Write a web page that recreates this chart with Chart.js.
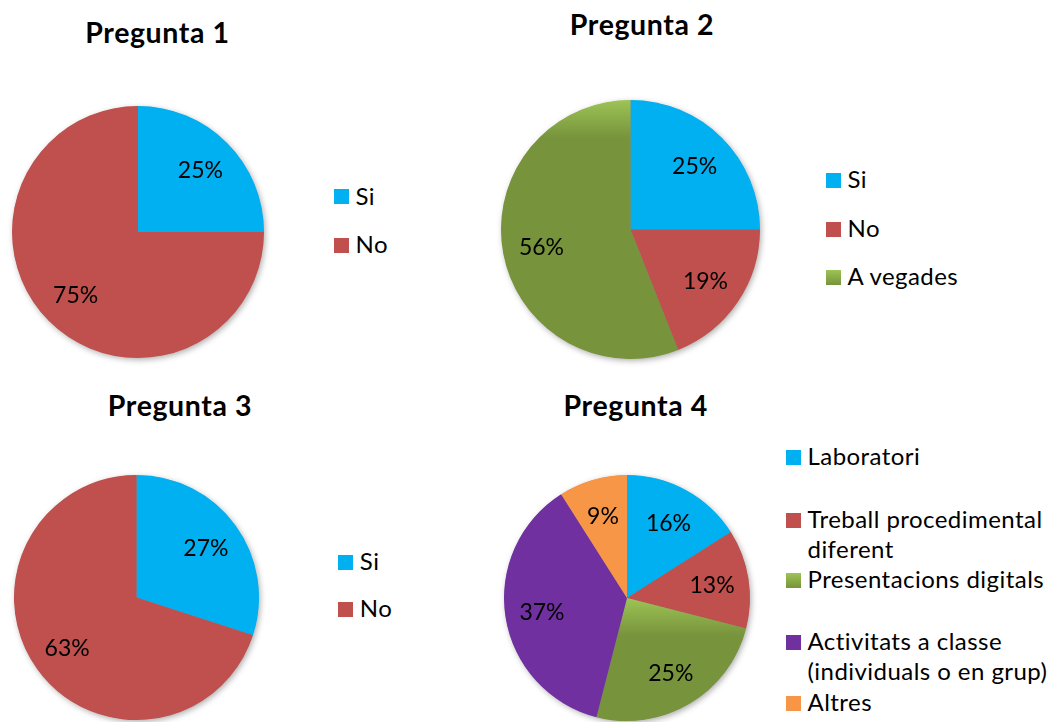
<!DOCTYPE html>
<html>
<head>
<meta charset="utf-8">
<script src="https://cdn.jsdelivr.net/npm/chart.js@4.4.1/dist/chart.umd.min.js"></script>
<style>
  html, body { margin: 0; padding: 0; }
  body { width: 1050px; height: 722px; background: #ffffff; position: relative; overflow: hidden;
         font-family: Lato, "Open Sans", "Liberation Sans", sans-serif; color: #000; }
  canvas { position: absolute; }
  .txt { position: absolute; white-space: nowrap; line-height: 1.2; }
  .sw { position: absolute; width: 15px; height: 15px; }
</style>
</head>
<body>
<script>
// ---------- DATA ----------
const titles = ['Pregunta 1', 'Pregunta 2', 'Pregunta 3', 'Pregunta 4'];

const q1Categories = ['Si', 'No'];
const q1Values = [25, 75];

const q2Categories = ['Si', 'No', 'A vegades'];
const q2Values = [25, 19, 56];

const q3Categories = ['Si', 'No'];
const q3Values = [27, 63];

const q4Categories = ['Laboratori', ['Treball procedimental', 'diferent'], 'Presentacions digitals',
                      ['Activitats a classe', '(individuals o en grup)'], 'Altres'];
const q4Values = [16, 13, 25, 37, 9];

// ---------- STYLE ----------
const BLUE = '#00B0F0', RED = '#C0504D', GREEN = '#77933C', GREEN_LIGHT = '#9DC455', PURPLE = '#7030A0', ORANGE = '#F79646';
const q12Colors = [BLUE, RED, GREEN];
const q4Colors = [BLUE, RED, GREEN, PURPLE, ORANGE];

const TITLE_SIZE = 28.5, LEGEND_SIZE = 24, LABEL_SIZE = 23, LINE_H = 30;
const TITLE_SPACING = 0.6, LEGEND_SPACING = 0.45;

// ---------- LAYOUT (positions only) ----------
const layout = [
  { cx: 137.5, cy: 231.8, r: 125.8, title: [157.5, 32.5], legX: 334,   legY: [196.7, 245.5] },
  { cx: 630.7, cy: 229.5, r: 129.3, title: [642,   25.0], legX: 826,   legY: [180.5, 229, 277] },
  { cx: 136.2, cy: 597.3, r: 122.3, title: [180,  406.0], legX: 338.3, legY: [562, 609.3] },
  { cx: 626.7, cy: 598.0, r: 123.0, title: [635.8, 405.5], legX: 786,  legY: [457, 520, 580, 642.5, 703] },
];

const charts = [
  { labels: q1Categories, values: q1Values, colors: q12Colors },
  { labels: q2Categories, values: q2Values, colors: q12Colors },
  { labels: q3Categories, values: q3Values, colors: q12Colors },
  { labels: q4Categories, values: q4Values, colors: q4Colors },
];

// ---------- helpers ----------
function placeText(text, x, capCenterY, size, weight, align, spacing) {
  const d = document.createElement('div');
  d.className = 'txt';
  d.textContent = text;
  d.style.fontSize = size + 'px';
  d.style.fontWeight = weight;
  d.style.letterSpacing = spacing + 'px';
  d.style.top = (capCenterY - 0.627 * size) + 'px';
  d.style.left = x + 'px';
  if (align === 'center') d.style.transform = 'translateX(-50%)';
  document.body.appendChild(d);
  return d;
}

function swatch(x, cy, color) {
  const s = document.createElement('div');
  s.className = 'sw';
  s.style.left = x + 'px';
  s.style.top = (cy - 7.5) + 'px';
  s.style.background = color === GREEN ? `linear-gradient(${GREEN_LIGHT}, ${GREEN})` : color;
  document.body.appendChild(s);
}

// Soft drop shadow under the whole pie
const pieShadow = {
  id: 'pieShadow',
  beforeDatasetsDraw(chart) {
    const el = chart.getDatasetMeta(0).data[0];
    if (!el) return;
    const { x, y, outerRadius } = el.getProps(['x', 'y', 'outerRadius'], true);
    const ctx = chart.ctx;
    ctx.save();
    ctx.shadowColor = 'rgba(0,0,0,0.35)';
    ctx.shadowBlur = 6;
    ctx.shadowOffsetX = 1.5;
    ctx.shadowOffsetY = 2;
    ctx.fillStyle = '#888';
    ctx.beginPath();
    ctx.arc(x, y, outerRadius - 0.5, 0, Math.PI * 2);
    ctx.fill();
    ctx.restore();
  }
};

// Green slices get Excel-like light-to-dark vertical gradient from slice top
const greenGradient = {
  id: 'greenGradient',
  beforeDatasetsDraw(chart) {
    const meta = chart.getDatasetMeta(0);
    const ds = chart.data.datasets[0];
    meta.data.forEach((el, i) => {
      if (ds.backgroundColor[i] !== GREEN) return;
      const { x, y, startAngle, endAngle, outerRadius } =
        el.getProps(['x', 'y', 'startAngle', 'endAngle', 'outerRadius'], true);
      let top = Math.min(y, y + outerRadius * Math.sin(startAngle), y + outerRadius * Math.sin(endAngle));
      const TAU = Math.PI * 2;
      for (let k = -2; k <= 2; k++) {
        const a = -Math.PI / 2 + k * TAU;
        if (a >= startAngle && a <= endAngle) top = y - outerRadius;
      }
      const g = chart.ctx.createLinearGradient(0, top, 0, top + 38);
      g.addColorStop(0, GREEN_LIGHT);
      g.addColorStop(1, GREEN);
      el.options = Object.assign({}, el.options, { backgroundColor: g });
    });
  }
};

// Percentage labels inside slices
const pctLabels = {
  id: 'pctLabels',
  afterDatasetsDraw(chart) {
    const meta = chart.getDatasetMeta(0);
    const ds = chart.data.datasets[0];
    const ctx = chart.ctx;
    ctx.save();
    ctx.font = `${LABEL_SIZE}px Lato, "Open Sans", sans-serif`;
    ctx.fillStyle = '#000';
    ctx.textAlign = 'center';
    ctx.textBaseline = 'middle';
    meta.data.forEach((el, i) => {
      const { x, y, startAngle, endAngle, outerRadius } =
        el.getProps(['x', 'y', 'startAngle', 'endAngle', 'outerRadius'], true);
      const mid = (startAngle + endAngle) / 2;
      const rr = outerRadius * 0.7;
      ctx.fillText(ds.data[i] + '%', x + rr * Math.cos(mid), y + rr * Math.sin(mid) + 1);
    });
    ctx.restore();
  }
};

const PAD = 10;
charts.forEach((c, idx) => {
  const L = layout[idx];
  const size = Math.round(2 * L.r + 2 * PAD);
  const cv = document.createElement('canvas');
  cv.width = size; cv.height = size;
  cv.style.width = size + 'px'; cv.style.height = size + 'px';
  cv.style.left = (L.cx - size / 2) + 'px';
  cv.style.top = (L.cy - size / 2) + 'px';
  document.body.appendChild(cv);

  new Chart(cv, {
    type: 'pie',
    data: {
      labels: c.labels,
      datasets: [{
        data: c.values,
        backgroundColor: c.colors.slice(0, c.values.length),
        borderWidth: 0,
      }]
    },
    options: {
      responsive: false,
      animation: false,
      devicePixelRatio: 1,
      events: [],
      layout: { padding: PAD },
      plugins: { legend: { display: false }, tooltip: { enabled: false }, title: { display: false } }
    },
    plugins: [pieShadow, greenGradient, pctLabels]
  });

  // title
  placeText(titles[idx], L.title[0], L.title[1], TITLE_SIZE, 'bold', 'center', TITLE_SPACING);

  // legend
  c.labels.forEach((lab, i) => {
    const y = L.legY[i];
    swatch(L.legX, y, c.colors[i]);
    const lines = Array.isArray(lab) ? lab : [lab];
    lines.forEach((ln, j) => placeText(ln, L.legX + 21.5, y + j * LINE_H, LEGEND_SIZE, 'normal', 'left', LEGEND_SPACING));
  });
});
</script>
</body>
</html>
